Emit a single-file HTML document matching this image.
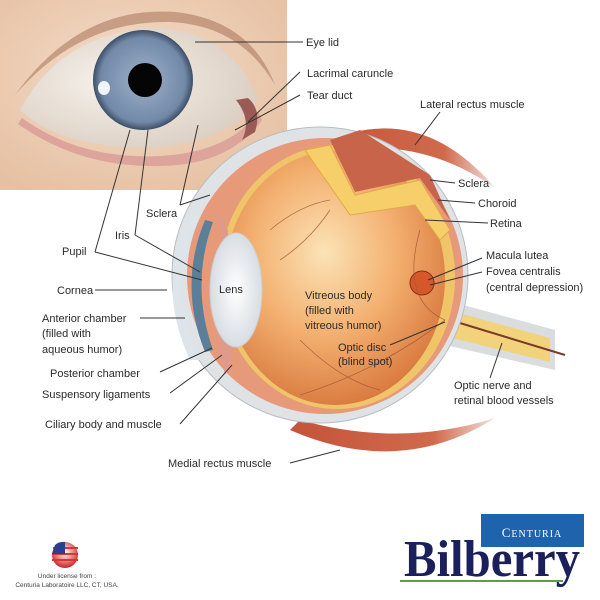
<!DOCTYPE html>
<html><head><meta charset="utf-8"><style>
html,body{margin:0;padding:0;background:#fff;}
svg{display:block;}
text{font-family:"Liberation Sans",Arial,sans-serif;font-size:11px;fill:#2a2a2a;}
</style></head><body>
<svg width="600" height="600" viewBox="0 0 600 600" xmlns="http://www.w3.org/2000/svg">
<defs>
<radialGradient id="skin" cx="0.45" cy="0.4" r="0.7"><stop offset="0" stop-color="#f3dcc8"/><stop offset="1" stop-color="#e6c0a2"/></radialGradient>
<radialGradient id="iris" cx="0.5" cy="0.5" r="0.5"><stop offset="0.3" stop-color="#8ea3bd"/><stop offset="0.85" stop-color="#7189a8"/><stop offset="1" stop-color="#3e4e66"/></radialGradient>
<radialGradient id="white" cx="0.4" cy="0.45" r="0.6"><stop offset="0" stop-color="#f6f2ec"/><stop offset="1" stop-color="#dcd0c4"/></radialGradient>
<radialGradient id="vit" cx="0.45" cy="0.4" r="0.65"><stop offset="0" stop-color="#fbe3b6"/><stop offset="0.5" stop-color="#f3b070"/><stop offset="1" stop-color="#d6743a"/></radialGradient>
<radialGradient id="lens" cx="0.5" cy="0.5" r="0.5"><stop offset="0" stop-color="#ffffff"/><stop offset="1" stop-color="#d7dde2"/></radialGradient>
<linearGradient id="mus" x1="0" y1="0" x2="1" y2="0"><stop offset="0" stop-color="#c4533a"/><stop offset="0.7" stop-color="#d06a4c"/><stop offset="1" stop-color="#f3e0da"/></linearGradient>
<radialGradient id="flag" cx="0.5" cy="0.4" r="0.6"><stop offset="0" stop-color="#fff"/><stop offset="1" stop-color="#c22"/></radialGradient>
</defs>
<!-- photo -->
<rect x="0" y="0" width="287" height="190" fill="url(#skin)"/>
<path d="M15,95 Q80,5 175,12 Q250,20 275,85 Q240,25 170,22 Q80,20 15,95 Z" fill="#a8735a" opacity="0.55"/>
<path d="M20,110 Q60,35 150,28 Q230,28 258,100 Q230,142 150,148 Q60,148 20,110 Z" fill="url(#white)"/>
<path d="M22,118 Q80,160 160,156 Q230,152 258,112 L262,120 Q230,165 160,166 Q80,168 18,124 Z" fill="#dca49a"/>
<circle cx="143" cy="80" r="50" fill="url(#iris)"/>
<circle cx="145" cy="80" r="17" fill="#050505"/>
<ellipse cx="104" cy="88" rx="6" ry="7" fill="#fff" opacity="0.9"/>
<path d="M236,100 Q252,120 242,140 L255,132 Q262,110 248,98 Z" fill="#9b5b55"/>
<!-- muscles -->
<path d="M325,142 Q420,100 495,188 Q420,135 330,152 Z" fill="url(#mus)"/>
<path d="M290,430 Q400,478 495,418 Q400,448 300,420 Z" fill="url(#mus)"/>
<!-- optic nerve -->
<path d="M445,300 L555,330 L555,370 L445,345 Z" fill="#d9dde0"/>
<path d="M448,310 L550,338 L550,362 L448,337 Z" fill="#f2d27a"/>
<line x1="450" y1="320" x2="565" y2="355" stroke="#7a3b2a" stroke-width="2"/>
<!-- globe -->
<circle cx="320" cy="275" r="148" fill="#dfe3e6" stroke="#b8bdc2"/>
<circle cx="325" cy="276" r="138" fill="#e79a7a"/>
<ellipse cx="337" cy="277" rx="118" ry="132" fill="#f0c56a"/>
<ellipse cx="335" cy="278" rx="110" ry="127" fill="url(#vit)"/>
<!-- yellow retina cutaway -->
<path d="M305,150 L330,145 L355,195 L420,180 L450,230 L440,240 L415,205 L350,215 Z" fill="#f6cf6a" stroke="#e0a84a"/>
<path d="M330,140 L360,130 L430,175 L450,220 L420,178 L355,192 Z" fill="#c8644a"/>
<!-- cornea -->
<path d="M200,215 Q165,285 200,360 L190,360 Q155,285 190,215 Z" fill="#dde4ea"/>
<path d="M205,220 Q178,285 205,352 L213,350 Q190,285 213,222 Z" fill="#5b7f98"/>
<path d="M215,210 L222,240 L218,345 L225,375 L232,360 L228,230 Z" fill="#e09a8a"/>
<ellipse cx="236" cy="290" rx="26" ry="57" fill="url(#lens)" stroke="#c9cfd4"/>
<circle cx="422" cy="283" r="12" fill="#d5582a" stroke="#8a2e14"/>
<!-- vessels -->
<g fill="none" stroke="#a4553a" stroke-width="0.8" opacity="0.8">
<path d="M445,320 Q380,370 300,395"/><path d="M445,320 Q400,300 420,230"/><path d="M270,230 Q300,205 330,200"/><path d="M280,260 Q310,240 330,210"/><path d="M300,340 Q340,380 380,390"/>
</g>
<!-- leader lines -->
<g stroke="#333" stroke-width="1" fill="none">
<path d="M195,42 L303,42"/><path d="M248,122 L300,72"/><path d="M235,130 L300,95"/>
<path d="M415,145 L440,112"/><path d="M455,183 L430,180"/><path d="M475,203 L438,200"/><path d="M488,223 L425,220"/>
<path d="M482,258 L428,280"/><path d="M482,272 L430,285"/><path d="M490,378 L502,343"/><path d="M390,345 L445,322"/>
<path d="M290,463 L340,450"/><path d="M180,424 L232,365"/><path d="M170,393 L222,355"/><path d="M160,372 L212,348"/>
<path d="M140,318 L185,318"/><path d="M95,290 L167,290"/>
<path d="M95,252 L130,130"/><path d="M95,252 L202,280"/>
<path d="M135,235 L148,130"/><path d="M135,235 L200,272"/>
<path d="M180,205 L198,125"/><path d="M180,205 L210,195"/>
</g>
<!-- labels -->
<text x="306" y="46">Eye lid</text>
<text x="307" y="77">Lacrimal caruncle</text>
<text x="307" y="99">Tear duct</text>
<text x="420" y="108">Lateral rectus muscle</text>
<text x="458" y="187">Sclera</text>
<text x="478" y="207">Choroid</text>
<text x="490" y="227">Retina</text>
<text x="486" y="259">Macula lutea</text>
<text x="486" y="275">Fovea centralis</text>
<text x="486" y="291">(central depression)</text>
<text x="146" y="217">Sclera</text>
<text x="115" y="239">Iris</text>
<text x="62" y="255">Pupil</text>
<text x="57" y="294">Cornea</text>
<text x="219" y="293">Lens</text>
<text x="305" y="299">Vitreous body</text>
<text x="305" y="314">(filled with</text>
<text x="305" y="329">vitreous humor)</text>
<text x="338" y="351">Optic disc</text>
<text x="338" y="365">(blind spot)</text>
<text x="42" y="322">Anterior chamber</text>
<text x="42" y="337">(filled with</text>
<text x="42" y="353">aqueous humor)</text>
<text x="50" y="377">Posterior chamber</text>
<text x="42" y="398">Suspensory ligaments</text>
<text x="45" y="428">Ciliary body and muscle</text>
<text x="454" y="389">Optic nerve and</text>
<text x="454" y="404">retinal blood vessels</text>
<text x="168" y="467">Medial rectus muscle</text>
<!-- footer -->
<circle cx="65" cy="555" r="13" fill="url(#flag)"/>
<path d="M53,548 L78,548 M52,554 L78,554 M52,560 L78,560" stroke="#d33" stroke-width="2"/>
<path d="M55,545 A13,13 0 0 1 65,542 L65,554 L52,554 Z" fill="#2a3f8f"/>
<text x="67" y="578" text-anchor="middle" style="font-size:6.5px;fill:#444">Under license from :</text>
<text x="67" y="587" text-anchor="middle" style="font-size:6.5px;fill:#444">Centuria Laboratoire LLC, CT, USA.</text>
<rect x="481" y="514" width="103" height="33" fill="#2063ad"/>
<text x="532" y="537" text-anchor="middle" style="font-family:'Liberation Serif',serif;font-size:13px;fill:#fff;letter-spacing:1px">C<tspan style="font-size:10px">ENTURIA</tspan></text>
<text x="404" y="576" textLength="176" lengthAdjust="spacingAndGlyphs" style="font-family:'Liberation Serif',serif;font-weight:bold;font-size:52px;fill:#1b1f5c">Bilberry</text>
<rect x="400" y="580" width="163" height="2" fill="#5aa040"/>
</svg>
</body></html>
